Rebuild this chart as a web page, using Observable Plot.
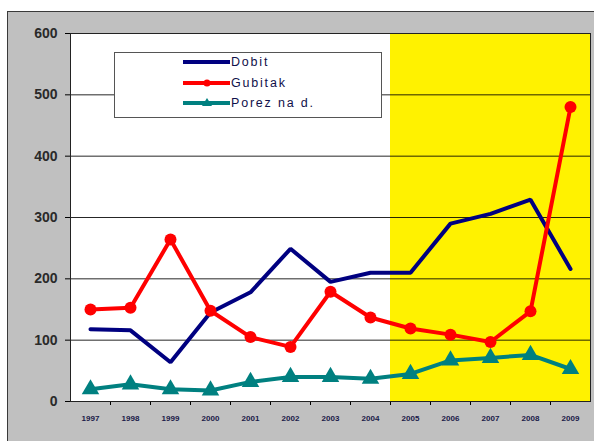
<!DOCTYPE html>
<html><head><meta charset="utf-8">
<script src="https://cdn.jsdelivr.net/npm/d3@7"></script>
<script src="https://cdn.jsdelivr.net/npm/@observablehq/plot@0.6"></script>
<style>
body{margin:0;background:#fff;}
#wrap{position:relative;width:594px;height:441px;overflow:hidden;font-family:Arial,"Liberation Sans",sans-serif;}
#bg{position:absolute;left:7px;top:11px;width:620px;height:460px;background:#c0c0c0;border:1.5px solid #3a3a3a;}
#chart{position:absolute;left:0;top:0;}
#legend{position:absolute;left:114px;top:52px;}
</style>
</head><body>
<div id="wrap"><div id="bg"></div><div id="chart"></div><div id="legend"></div></div>
<script>
const years = [1997,1998,1999,2000,2001,2002,2003,2004,2005,2006,2007,2008,2009];
const dobit = [118,116,64,145,178,249,195,210,210,290,306,329,216];
const gubitak = [150,153,264,148,105,89,179,137,119,109,97,147,480];
const porez = [20,28,20,18,32,40,40,37,45,67,71,76,53];
const seriesNames = ["Dobit","Gubitak","Porez na d."];
const seriesColors = ["#000080","#ff0000","#008080"];
const yTicks = [0,100,200,300,400,500,600];
const highlightFrom = 2005;

const rows = [];
[dobit,gubitak,porez].forEach((arr,i)=>arr.forEach((v,j)=>rows.push({series:seriesNames[i],year:years[j],value:v})));
const first = years[0]-0.5, last = years[years.length-1]+0.5;
const boundaries = years.slice(1).map(y=>y-0.5);

const chart = Plot.plot({
  width:594, height:441,
  marginLeft:70, marginRight:4, marginTop:33, marginBottom:40,
  style:{background:"transparent", fontFamily:"Arial, 'Liberation Sans', sans-serif"},
  x:{type:"linear", domain:[first,last], axis:null},
  y:{domain:[0,600], axis:null},
  color:{domain:seriesNames, range:seriesColors},
  marks:[
    Plot.frame({fill:"white"}),
    Plot.rect([highlightFrom],{x1:d=>d-0.5, x2:last, y1:0, y2:600, fill:"#fff200"}),
    Plot.gridY(yTicks.filter(v=>v>0&&v<600),{stroke:"#000",strokeOpacity:0.85,strokeWidth:1}),
    Plot.axisY(yTicks,{label:null,tickSize:5,tickPadding:8,fontSize:14,fontWeight:"bold",fill:"#2a2a2a",stroke:"#000"}),
    Plot.axisX(boundaries,{label:null,tickSize:4,tickFormat:()=>"",stroke:"#000"}),
    Plot.axisX(years,{label:null,tickSize:0,tickPadding:14,fontSize:8,fontWeight:"bold",fill:"#1a1a48",tickFormat:d=>String(d),style:{letterSpacing:"1.2px"}}),
    Plot.ruleX([first],{stroke:"#000"}),
    Plot.ruleY([0],{stroke:"#000"}),
    Plot.frame({stroke:"#222"}),
    Plot.line(rows,{x:"year",y:"value",stroke:"series",strokeWidth:4,strokeLinejoin:"miter"}),
    Plot.dot(rows.filter(d=>d.series==="Gubitak"),{x:"year",y:"value",fill:"#ff0000",r:6}),
    Plot.dot(rows.filter(d=>d.series==="Porez na d."),{x:"year",y:"value",fill:"#008080",symbol:"triangle",r:6.5})
  ]
});
document.getElementById("chart").appendChild(chart);

// legend
const ns="http://www.w3.org/2000/svg";
const lg=document.createElementNS(ns,"svg");
lg.setAttribute("width",268);lg.setAttribute("height",66);
lg.innerHTML=`<rect x="0.5" y="0.5" width="267" height="65" fill="#fff" stroke="#555"/>`;
const rowY=[10,31,51];
seriesNames.forEach((n,i)=>{
  const y=rowY[i];
  let s=`<line x1="69" x2="116" y1="${y}" y2="${y}" stroke="${seriesColors[i]}" stroke-width="4"/>`;
  if(i===1) s+=`<circle cx="93" cy="${y}" r="3.5" fill="${seriesColors[i]}"/>`;
  if(i===2) s+=`<path d="M93,${y-5}L98,${y+3}L88,${y+3}Z" fill="${seriesColors[i]}"/>`;
  s+=`<text x="117" y="${y}" dy="0.35em" font-size="12.5" font-family="Arial, 'Liberation Sans', sans-serif" letter-spacing="1.8" fill="#10104a">${n}</text>`;
  lg.insertAdjacentHTML("beforeend",s);
});
document.getElementById("legend").appendChild(lg);
</script>
</body></html>
